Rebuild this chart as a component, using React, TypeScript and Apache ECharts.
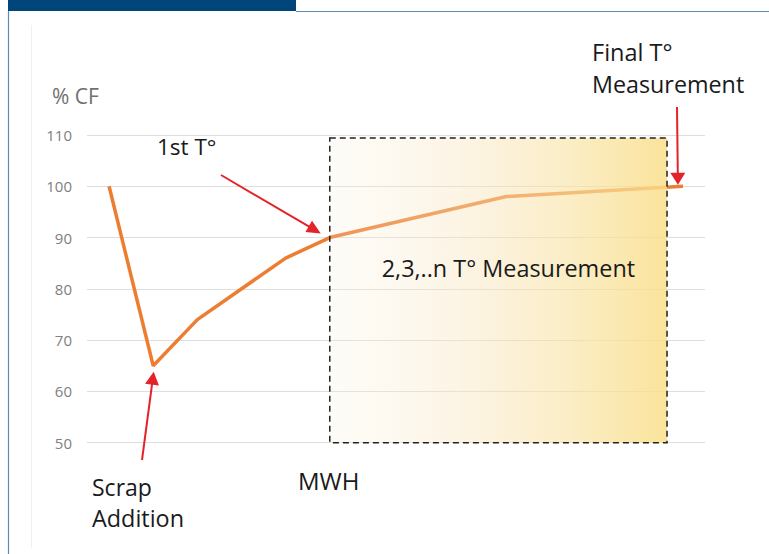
import React, { useEffect, useRef } from "react";
import * as echarts from "echarts";

// Process steps (heat progression) and the % CF reading at each step
const steps = [0, 1, 2, 4, 5, 9, 13];
const cfValues = [100, 65, 74, 86, 90, 98, 100];

// Value axis
const yMin = 50;
const yMax = 110;
const yStep = 10;

// Step range covered by the repeated temperature measurements
const measureFrom = 5;
const measureTo = 12.64;
const measureLow = 50;
const measureHigh = 109.4;

const FONT = "'Open Sans', 'Noto Sans', sans-serif";
const RED = "#e3222a";
const ORANGE = "#ed7d31";

type Pt = [number, number];

function arrow(tail: Pt, tip: Pt, headLen = 13, headW = 13) {
  const dx = tip[0] - tail[0];
  const dy = tip[1] - tail[1];
  const len = Math.hypot(dx, dy);
  const ux = dx / len;
  const uy = dy / len;
  const bx = tip[0] - ux * headLen;
  const by = tip[1] - uy * headLen;
  const nx = -uy * (headW / 2);
  const ny = ux * (headW / 2);
  return [
    {
      type: "line",
      shape: { x1: tail[0], y1: tail[1], x2: bx + ux, y2: by + uy },
      style: { stroke: RED, lineWidth: 2 },
      z: 10,
    },
    {
      type: "polygon",
      shape: {
        points: [
          [tip[0], tip[1]],
          [bx + nx, by + ny],
          [bx - nx, by - ny],
        ],
      },
      style: { fill: RED },
      z: 10,
    },
  ];
}

export default function App() {
  const ref = useRef<HTMLDivElement>(null);

  useEffect(() => {
    if (!ref.current) return;
    const chart = echarts.init(ref.current, null, { renderer: "svg" });

    chart.setOption({
      animation: false,
      backgroundColor: "#ffffff",
      grid: { left: 87, right: 64, top: 135, height: 307.7, containLabel: false },
      xAxis: {
        type: "value",
        min: -0.5,
        max: 13.5,
        show: false,
      },
      yAxis: {
        type: "value",
        min: yMin,
        max: yMax,
        interval: yStep,
        axisLine: { show: false },
        axisTick: { show: false },
        axisLabel: {
          color: "#808080",
          fontSize: 15,
          fontFamily: FONT,
          margin: 15,
        },
        splitLine: { lineStyle: { color: "#dedede", width: 1.2 } },
      },
      series: [
        {
          type: "line",
          data: steps.map((s, i) => [s, cfValues[i]]),
          symbol: "none",
          lineStyle: { color: ORANGE, width: 3.5 },
          z: 2,
        },
        {
          type: "custom",
          z: 3,
          silent: true,
          clip: false,
          encode: { x: [0, 2], y: [1, 3] },
          data: [[measureFrom, measureLow, measureTo, measureHigh]],
          renderItem: (_params: any, api: any) => {
            const p0 = api.coord([api.value(0), api.value(3)]);
            const p1 = api.coord([api.value(2), api.value(1)]);
            return {
              type: "rect",
              shape: {
                x: p0[0],
                y: p0[1],
                width: p1[0] - p0[0],
                height: p1[1] - p0[1],
              },
              style: {
                fill: {
                  type: "linear",
                  x: 0,
                  y: 0,
                  x2: 1,
                  y2: 0,
                  colorStops: [
                    { offset: 0, color: "rgba(250,240,220,0.2)" },
                    { offset: 0.45, color: "rgba(248,228,184,0.45)" },
                    { offset: 0.75, color: "rgba(249,226,158,0.65)" },
                    { offset: 1, color: "rgba(250,222,137,0.85)" },
                  ],
                },
                stroke: "#222222",
                lineWidth: 1.5,
                lineDash: [6, 4],
              },
            };
          },
        },
      ],
    });

    const px = (x: number, y: number): Pt =>
      chart.convertToPixel({ gridIndex: 0 }, [x, y]) as Pt;

    const scrap = px(steps[1], cfValues[1]);
    const first = px(steps[4], cfValues[4]);
    const final = px(steps[6], cfValues[6]);
    const boxL = px(measureFrom, measureHigh);
    const boxR = px(measureTo, measureLow);

    const text = (
      t: string,
      x: number,
      y: number,
      size: number,
      color = "#1a1a1a",
      align = "left"
    ) => ({
      type: "text",
      x,
      y,
      z: 10,
      style: {
        text: t,
        fontFamily: FONT,
        fontSize: size,
        fill: color,
        textAlign: align,
        textVerticalAlign: "middle",
      },
    });

    chart.setOption({
      graphic: [
        // page frame
        { type: "rect", shape: { x: 8, y: 0, width: 288, height: 11 }, style: { fill: "#00467a" }, z: 1 },
        { type: "line", shape: { x1: 296, y1: 11.5, x2: 769, y2: 11.5 }, style: { stroke: "#5f8bb0", lineWidth: 1.2 }, z: 1 },
        { type: "line", shape: { x1: 8.5, y1: 11, x2: 8.5, y2: 554 }, style: { stroke: "#5f8bb0", lineWidth: 1.2 }, z: 1 },
        { type: "line", shape: { x1: 31.5, y1: 25, x2: 31.5, y2: 548 }, style: { stroke: "#f0f0f0", lineWidth: 1 }, z: 1 },

        text("% CF", 52, 96, 21, "#707070"),
        text("1st T°", 157, 146, 22.5),
        text("2,3,..n T° Measurement", (boxL[0] + boxR[0]) / 2 + 10, 268, 23.4, "#1a1a1a", "center"),
        text("Final T°", 592, 52, 23.5),
        text("Measurement", 592, 84, 23.3),
        text("Scrap", 92, 487, 23),
        text("Addition", 92, 518, 23.4),
        text("MWH", 298, 480, 24),

        ...arrow([221, 175], [first[0] - 9, first[1] - 4], 14, 13),
        ...arrow([142, 460], [scrap[0] + 0.5, scrap[1] + 6], 13, 14),
        ...arrow([677, 107], [final[0] - 5, final[1] - 1.5], 12, 15),
      ],
    });

    return () => chart.dispose();
  }, []);

  return (
    <div
      ref={ref}
      style={{ position: "absolute", left: 0, top: 0, width: 769, height: 554, background: "#fff" }}
    />
  );
}
